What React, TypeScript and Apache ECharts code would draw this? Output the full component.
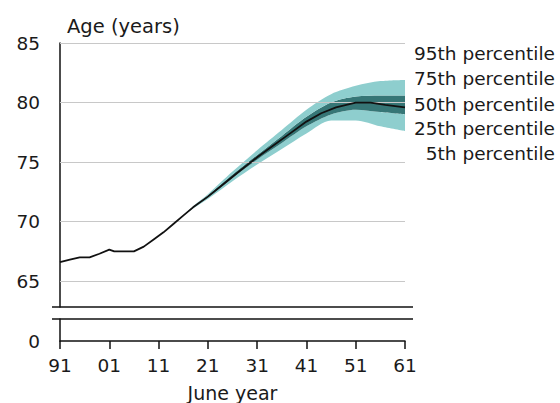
import React, { useEffect, useRef } from "react";
import * as echarts from "echarts";

// ---- data ----
const startYear = 1991;
const xTickYears = [1991, 2001, 2011, 2021, 2031, 2041, 2051, 2061];
const yTicks = [65, 70, 75, 80, 85];

const medianYears = [
  1991, 1993, 1995, 1997, 1999, 2001, 2002, 2004, 2006, 2008, 2010, 2012, 2014,
  2016, 2018, 2021, 2024, 2027, 2031, 2034, 2037, 2041, 2044, 2047, 2051, 2054,
  2057, 2061,
];
const median = [
  66.6, 66.8, 67.0, 67.0, 67.3, 67.65, 67.5, 67.5, 67.5, 67.9, 68.5, 69.1, 69.8,
  70.5, 71.2, 72.1, 73.1, 74.1, 75.4, 76.3, 77.2, 78.4, 79.1, 79.6, 80.0, 80.0,
  79.8, 79.6,
];

const bandYears = [2016, 2018, 2021, 2026, 2031, 2036, 2041, 2046, 2051, 2056, 2061];
const p5 = [70.5, 71.1, 71.9, 73.4, 74.8, 76.1, 77.4, 78.5, 78.5, 78.0, 77.6];
const p25 = [70.5, 71.15, 72.0, 73.65, 75.2, 76.6, 78.0, 79.0, 79.4, 79.2, 79.0];
const p75 = [70.5, 71.25, 72.2, 73.95, 75.6, 77.2, 78.8, 80.0, 80.5, 80.6, 80.6];
const p95 = [70.5, 71.3, 72.3, 74.2, 76.0, 77.7, 79.4, 80.7, 81.4, 81.8, 81.9];

const legendLabels = [
  "95th percentile",
  "75th percentile",
  "50th percentile",
  "25th percentile",
  "5th percentile",
];

const FONT = "DejaVu Sans";
const TEXT = "#1a1a1a";
const LIGHT = "#8ecece";
const DARK = "#367676";

export default function App() {
  const ref = useRef<HTMLDivElement>(null);

  useEffect(() => {
    if (!ref.current) return;
    const chart = echarts.init(ref.current, undefined, { renderer: "svg" });

    const off = (y: number) => y - startYear;
    const bandX = bandYears.map(off);
    // value first so that the stacked dimension is the value dimension
    const pair = (vals: number[]) => bandX.map((x, i) => [vals[i], x]);
    const diff = (a: number[], b: number[]) => a.map((v, i) => +(v - b[i]).toFixed(3));

    const xLabel = (v: number) => String((startYear + v) % 100).padStart(2, "0");
    const xMax = off(xTickYears[xTickYears.length - 1]);

    const bandSeries = (name: string, vals: number[], color: string | null) => ({
      type: "line",
      name,
      xAxisIndex: 0,
      yAxisIndex: 0,
      stack: "band",
      data: pair(vals),
      encode: { x: 1, y: 0 },
      symbol: "none",
      smooth: 0.3,
      lineStyle: { width: 0, opacity: 0 },
      areaStyle: color ? { color, opacity: 1 } : undefined,
      z: 2,
      silent: true,
    });

    const legendTops = [53, 78, 104, 128, 153];

    const option: any = {
      animation: false,
      textStyle: { fontFamily: FONT },
      grid: [
        { left: 60, right: 155, top: 43, bottom: 96 },
        { left: 60, right: 155, top: 319, bottom: 62 },
      ],
      xAxis: [
        {
          type: "value",
          gridIndex: 0,
          min: 0,
          max: xMax,
          interval: 10,
          show: false,
          splitLine: { show: false },
        },
        {
          type: "value",
          gridIndex: 1,
          min: 0,
          max: xMax,
          interval: 10,
          name: "June year",
          nameLocation: "middle",
          nameGap: 42,
          nameTextStyle: { color: TEXT, fontSize: 19, fontFamily: FONT },
          axisLine: { show: true, onZero: false, lineStyle: { color: "#111", width: 1.5 } },
          axisTick: { show: true, length: 8, inside: false, lineStyle: { color: "#111", width: 1.5 } },
          axisLabel: {
            formatter: xLabel,
            color: TEXT,
            fontSize: 18.5,
            fontFamily: FONT,
            margin: 15,
            showMinLabel: true,
            showMaxLabel: true,
          },
          splitLine: { show: false },
        },
      ],
      yAxis: [
        {
          type: "value",
          gridIndex: 0,
          min: 62.83,
          max: 85,
          name: "Age (years)",
          nameLocation: "end",
          nameGap: 7,
          nameTextStyle: {
            color: TEXT,
            fontSize: 19.5,
            fontFamily: FONT,
            align: "left",
            padding: [0, 0, 0, 7],
          },
          axisLine: { show: true, lineStyle: { color: "#111", width: 1.5 } },
          axisTick: { show: false },
          axisLabel: {
            customValues: yTicks,
            color: TEXT,
            fontSize: 18.5,
            fontFamily: FONT,
            margin: 20,
          },
          splitLine: { show: false },
        },
        {
          type: "value",
          gridIndex: 1,
          min: 0,
          max: 1,
          axisLine: { show: true, lineStyle: { color: "#111", width: 1.5 } },
          axisTick: { show: false },
          axisLabel: {
            customValues: [0],
            color: TEXT,
            fontSize: 18.5,
            fontFamily: FONT,
            margin: 20,
          },
          splitLine: { show: false },
        },
      ],
      series: [
        {
          type: "line",
          name: "grid",
          xAxisIndex: 0,
          yAxisIndex: 0,
          data: [],
          silent: true,
          z: 1,
          markLine: {
            silent: true,
            symbol: ["none", "none"],
            label: { show: false },
            lineStyle: { color: "#c8c8c8", width: 1, type: "solid" },
            data: yTicks.map((v) => ({ yAxis: v })),
            animation: false,
          },
        },
        bandSeries("p5", p5, null),
        bandSeries("p5-p25", diff(p25, p5), LIGHT),
        bandSeries("p25-p75", diff(p75, p25), DARK),
        bandSeries("p75-p95", diff(p95, p75), LIGHT),
        {
          type: "line",
          name: "median",
          xAxisIndex: 0,
          yAxisIndex: 0,
          data: medianYears.map((y, i) => [off(y), median[i]]),
          symbol: "none",
          smooth: false,
          lineStyle: { color: "#111", width: 1.8 },
          z: 5,
          silent: true,
        },
      ],
      graphic: [
        {
          type: "line",
          shape: { x1: 52, y1: 307, x2: 413, y2: 307 },
          style: { stroke: "#111", lineWidth: 1.5 },
          z: 10,
        },
        {
          type: "line",
          shape: { x1: 52, y1: 319, x2: 413, y2: 319 },
          style: { stroke: "#111", lineWidth: 1.5 },
          z: 10,
        },
        ...legendLabels.map((t, i) => ({
          type: "text",
          x: 555,
          y: legendTops[i],
          style: {
            text: t,
            fill: TEXT,
            font: `18.5px "${FONT}"`,
            textAlign: "right",
            textVerticalAlign: "middle",
          },
        })),
      ],
    };

    chart.setOption(option);
    return () => chart.dispose();
  }, []);

  return (
    <div
      ref={ref}
      style={{ position: "fixed", left: 0, top: 0, width: 560, height: 403, background: "#fff" }}
    />
  );
}
